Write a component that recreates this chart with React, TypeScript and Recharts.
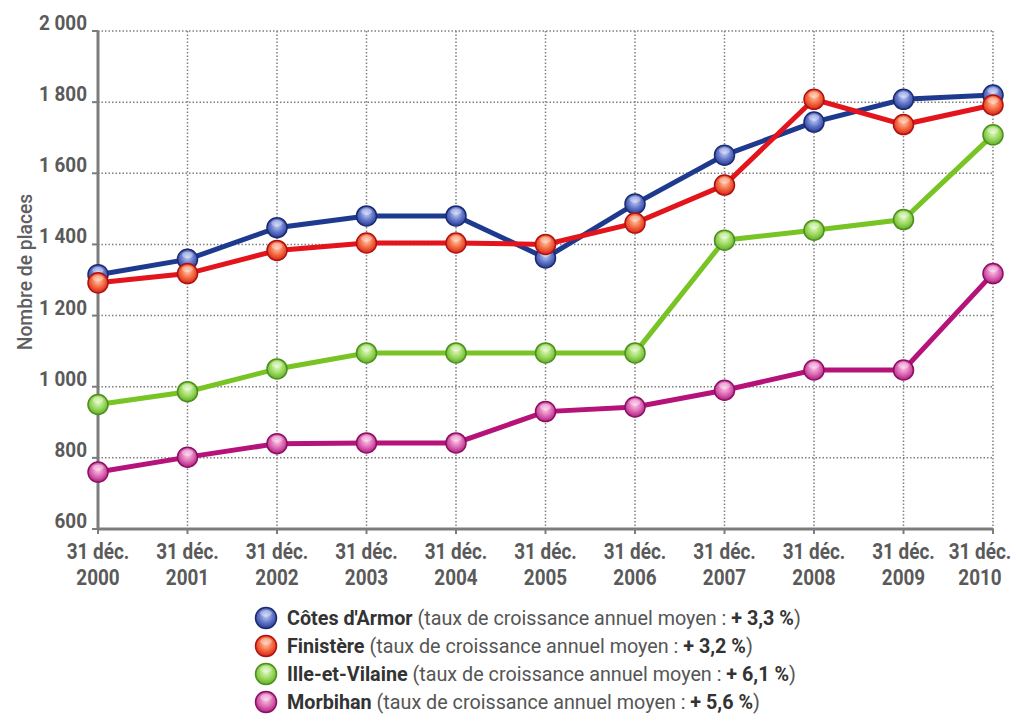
import React from "react";
import { LineChart, Line, XAxis, YAxis, CartesianGrid, Legend, Label } from "recharts";

const YEARS = ["2000", "2001", "2002", "2003", "2004", "2005", "2006", "2007", "2008", "2009", "2010"];
const COTES_ARMOR = [1315, 1358, 1447, 1480, 1480, 1362, 1514, 1651, 1744, 1808, 1820];
const FINISTERE = [1292, 1318, 1383, 1404, 1404, 1400, 1460, 1567, 1808, 1737, 1792];
const ILLE_VILAINE = [950, 986, 1050, 1095, 1095, 1095, 1095, 1412, 1440, 1470, 1708];
const MORBIHAN = [760, 802, 840, 842, 842, 930, 943, 990, 1047, 1047, 1318];
const Y_TICKS = [600, 800, 1000, 1200, 1400, 1600, 1800, 2000];

type Serie = { key: string; name: string; rate: string; line: string; stops: string[]; ring: string };

const SERIES: Serie[] = [
  { key: "cotes", name: "Côtes d'Armor", rate: "+ 3,3 %", line: "#1d3a8e", stops: ["#c3cdf3", "#6276c9", "#283b90"], ring: "#1a2a70" },
  { key: "finistere", name: "Finistère", rate: "+ 3,2 %", line: "#e3141b", stops: ["#ffc6a6", "#f4693f", "#d5241a"], ring: "#b01010" },
  { key: "ille", name: "Ille-et-Vilaine", rate: "+ 6,1 %", line: "#78c424", stops: ["#e2f8c4", "#9bd95f", "#63ad29"], ring: "#4d8f1c" },
  { key: "morbihan", name: "Morbihan", rate: "+ 5,6 %", line: "#b5137a", stops: ["#fac8e6", "#dd69b4", "#b01f7f"], ring: "#8a0f62" },
];

const data = YEARS.map((y, i) => ({
  year: y,
  cotes: COTES_ARMOR[i],
  finistere: FINISTERE[i],
  ille: ILLE_VILAINE[i],
  morbihan: MORBIHAN[i],
}));

const FONT = "Roboto, 'DejaVu Sans', sans-serif";
const AXIS_GREY = "#7c7c7c";
const TEXT_GREY = "#5a5a5a";

const fmt = (v: number) => (v >= 1000 ? `${Math.floor(v / 1000)} ${String(v % 1000).padStart(3, "0")}` : `${v}`);

const XTick = ({ x, y, payload, index }: any) => {
  // the last label is pushed left so it stays inside the page
  const shift = index === YEARS.length - 1 ? -13 : 0;
  return (
    <g transform={`translate(${x + shift},${y}) scale(0.86,1)`}>
      <text x={0} y={0} textAnchor="middle" fill={TEXT_GREY} fontSize={22} fontWeight="bold" fontFamily={FONT}>
        <tspan x={0} dy={23}>31 déc.</tspan>
        <tspan x={0} dy={26}>{payload.value}</tspan>
      </text>
    </g>
  );
};

const YTick = ({ x, y, payload }: any) => (
  <g transform={`translate(${x},${y - 1}) scale(0.9,1)`}>
    <text x={0} y={0} textAnchor="end" fill={TEXT_GREY} fontSize={21} fontWeight="bold" fontFamily={FONT}>
      {fmt(payload.value)}
    </text>
  </g>
);

const Ball = ({ cx, cy, s, r = 10 }: { cx: number; cy: number; s: Serie; r?: number }) => (
  <g>
    <circle cx={cx} cy={cy} r={r} fill={`url(#ball-${s.key})`} stroke={s.ring} strokeWidth={1.5} />
    <ellipse cx={cx} cy={cy - r * 0.45} rx={r * 0.55} ry={r * 0.32} fill="#ffffff" opacity={0.35} />
  </g>
);

const LegendContent = () => (
  <div style={{ fontFamily: FONT, fontSize: 21, lineHeight: "28px" }}>
    {SERIES.map((s) => (
      <div key={s.key} style={{ display: "flex", alignItems: "center", whiteSpace: "nowrap" }}>
        <svg width={24} height={24} style={{ marginRight: 9 }}>
          <Ball cx={12} cy={12} s={s} r={10.5} />
        </svg>
        <span style={{ display: "inline-block", transform: "scaleX(0.94)", transformOrigin: "left center" }}>
          <span style={{ fontWeight: "bold", color: "#333" }}>{s.name}</span>
          <span style={{ color: "#555" }}>&nbsp;(taux de croissance annuel moyen :&nbsp;</span>
          <span style={{ fontWeight: "bold", color: "#333" }}>{s.rate}</span>
          <span style={{ color: "#555" }}>)</span>
        </span>
      </div>
    ))}
  </div>
);

// drawing order: blue under red, as in the original
const DRAW_ORDER = ["morbihan", "ille", "cotes", "finistere"];

export default function App() {
  return (
    <div style={{ position: "absolute", left: 0, top: 0, width: 1016, height: 723, background: "#fff" }}>
      <LineChart width={1016} height={723} data={data} margin={{ top: 31, right: 23, left: 0, bottom: 134 }}>
        <defs>
          {SERIES.map((s) => (
            <radialGradient key={s.key} id={`ball-${s.key}`} cx="50%" cy="40%" r="60%">
              <stop offset="0%" stopColor={s.stops[0]} />
              <stop offset="55%" stopColor={s.stops[1]} />
              <stop offset="100%" stopColor={s.stops[2]} />
            </radialGradient>
          ))}
        </defs>
        <CartesianGrid stroke="#808080" strokeWidth={1.5} strokeDasharray="1.5 2" />
        <XAxis
          dataKey="year"
          height={60}
          interval={0}
          tick={<XTick />}
          tickSize={5}
          tickMargin={2}
          axisLine={{ stroke: AXIS_GREY, strokeWidth: 3 }}
          tickLine={{ stroke: AXIS_GREY, strokeWidth: 2 }}
        />
        <YAxis
          width={98}
          domain={[600, 2000]}
          ticks={Y_TICKS}
          interval={0}
          tick={<YTick />}
          tickSize={6}
          tickMargin={5}
          axisLine={{ stroke: AXIS_GREY, strokeWidth: 3 }}
          tickLine={{ stroke: AXIS_GREY, strokeWidth: 2 }}
        >
          <Label
            content={() => (
              <g transform="translate(25,272) rotate(-90)">
                <text
                  x={0}
                  y={0}
                  transform="scale(0.92,1)"
                  textAnchor="middle"
                  dominantBaseline="central"
                  fill="#5f5f5f"
                  fontSize={21}
                  fontWeight={500}
                  fontFamily={FONT}
                >
                  Nombre de places
                </text>
              </g>
            )}
          />
        </YAxis>
        {DRAW_ORDER.map((k) => {
          const s = SERIES.find((x) => x.key === k)!;
          return (
            <Line
              key={s.key}
              dataKey={s.key}
              name={s.name}
              type="linear"
              stroke={s.line}
              strokeWidth={5}
              isAnimationActive={false}
              dot={(p: any) => <Ball key={`${s.key}-${p.index}`} cx={p.cx} cy={p.cy} s={s} />}
              activeDot={false}
            />
          );
        })}
        <Legend
          layout="horizontal"
          verticalAlign="middle"
          align="center"
          content={<LegendContent />}
          wrapperStyle={{ position: "absolute", top: 604, left: 254, width: 700, height: 115 }}
        />
      </LineChart>
    </div>
  );
}
